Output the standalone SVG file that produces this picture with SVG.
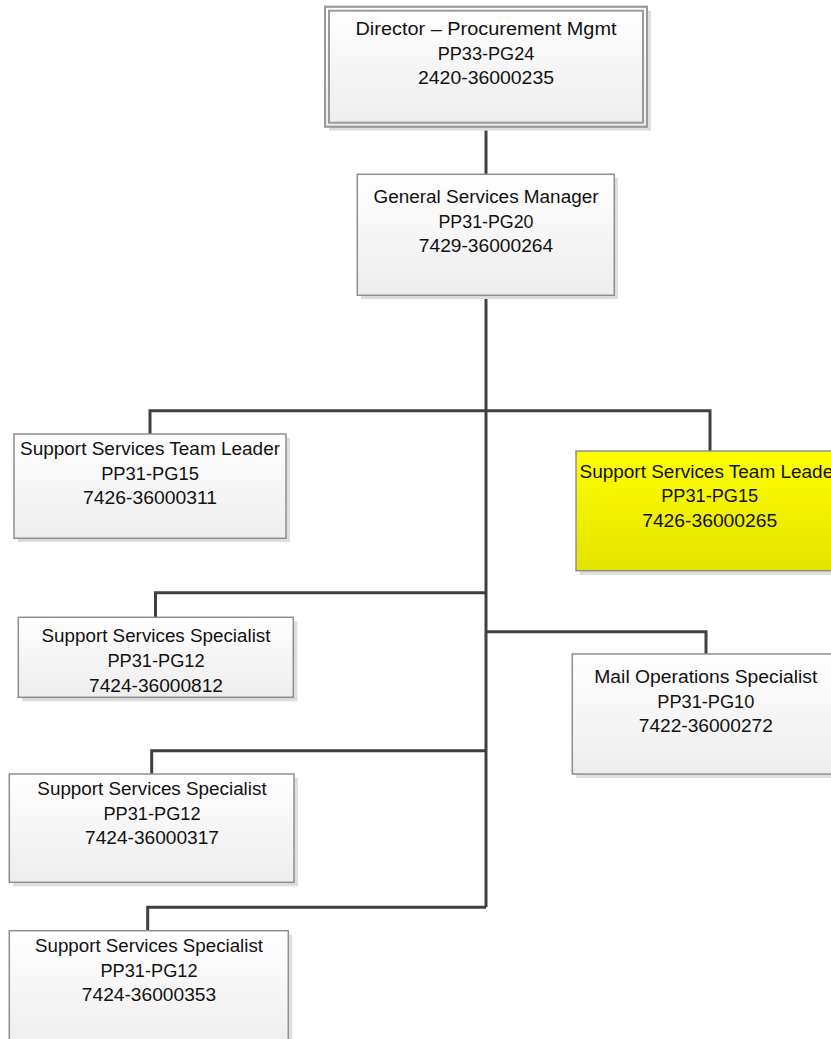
<svg xmlns="http://www.w3.org/2000/svg" width="831" height="1039" viewBox="0 0 831 1039">
  <style>
    .box { fill: url(#gGray); stroke: #8e8e8e; stroke-width: 1.5; }
    .hl { fill: url(#gYellow); stroke: #8e8e8e; stroke-width: 1.5; }
    .shadow { fill: #dedede; }
    .frame { fill: none; stroke: #9a9a9a; stroke-width: 2; }
    .lbl { font-family: "Liberation Sans", Arial, sans-serif; font-size: 17.5px; fill: #111; text-anchor: middle; }
    .link { fill: none; stroke: #404040; stroke-width: 3; stroke-linejoin: miter; }
  </style>
  <defs>
    <linearGradient id="gGray" x1="0" y1="0" x2="0" y2="1">
      <stop offset="0" stop-color="#ffffff"/>
      <stop offset="1" stop-color="#ededed"/>
    </linearGradient>
    <linearGradient id="gYellow" x1="0" y1="0" x2="0" y2="1">
      <stop offset="0" stop-color="#ffff00"/>
      <stop offset="1" stop-color="#e3e300"/>
    </linearGradient>
  </defs>
  <rect width="831" height="1039" fill="#ffffff"/>

  <!-- reporting lines -->
  <g id="connectors">
    <path class="link" d="M486 127 V174"/>
    <path class="link" d="M486 295 V907.3"/>
    <path class="link" d="M150 434 V410.7 H710 V451"/>
    <path class="link" d="M155.5 617.3 V592.7 H486"/>
    <path class="link" d="M486 631.7 H706 V654"/>
    <path class="link" d="M151.7 774 V750.7 H486"/>
    <path class="link" d="M147.7 930.7 V907.3 H486"/>
  </g>

  <g id="director">
    <rect class="shadow" x="329" y="10.7" width="322" height="120"/>
    <rect class="box" x="325" y="6.7" width="322" height="120" stroke="none"/>
    <rect class="frame" x="325" y="6.7" width="322" height="120"/>
    <rect class="frame" x="329" y="10.7" width="314" height="112" stroke="#ababab"/>
    <text class="lbl" x="486" y="35.3" textLength="261" lengthAdjust="spacingAndGlyphs">Director – Procurement Mgmt</text>
    <text class="lbl" x="486" y="59.5" textLength="96.7" lengthAdjust="spacingAndGlyphs">PP33-PG24</text>
    <text class="lbl" x="486" y="83.7" textLength="136" lengthAdjust="spacingAndGlyphs">2420-36000235</text>
  </g>

  <g id="general-services-manager">
    <rect class="shadow" x="361" y="178" width="257" height="121"/>
    <rect class="box" x="357.3" y="174.3" width="257" height="121"/>
    <text class="lbl" x="486" y="203.3" textLength="225" lengthAdjust="spacingAndGlyphs">General Services Manager</text>
    <text class="lbl" x="486" y="227.5" textLength="95" lengthAdjust="spacingAndGlyphs">PP31-PG20</text>
    <text class="lbl" x="486" y="251.7" textLength="134.4" lengthAdjust="spacingAndGlyphs">7429-36000264</text>
  </g>

  <g id="team-leader-311">
    <rect class="shadow" x="18" y="438" width="272" height="104"/>
    <rect class="box" x="14" y="434" width="272" height="104.3"/>
    <text class="lbl" x="150" y="455" textLength="260" lengthAdjust="spacingAndGlyphs">Support Services Team Leader</text>
    <text class="lbl" x="150" y="479.5" textLength="97.7" lengthAdjust="spacingAndGlyphs">PP31-PG15</text>
    <text class="lbl" x="150" y="504" textLength="134" lengthAdjust="spacingAndGlyphs">7426-36000311</text>
  </g>

  <g id="team-leader-265">
    <rect class="shadow" x="580" y="455" width="267" height="120"/>
    <rect class="hl" x="576" y="451" width="267" height="119.7"/>
    <text class="lbl" x="579.5" y="478" text-anchor="start" style="text-anchor:start" textLength="253.7" lengthAdjust="spacingAndGlyphs">Support Services Team Leade</text>
    <text class="lbl" x="709.7" y="502.3" textLength="97" lengthAdjust="spacingAndGlyphs">PP31-PG15</text>
    <text class="lbl" x="709.7" y="526.7" textLength="135" lengthAdjust="spacingAndGlyphs">7426-36000265</text>
  </g>

  <g id="specialist-812">
    <rect class="shadow" x="22.3" y="621.3" width="275" height="80"/>
    <rect class="box" x="18.3" y="617.3" width="275" height="80"/>
    <text class="lbl" x="156" y="641.7" textLength="229" lengthAdjust="spacingAndGlyphs">Support Services Specialist</text>
    <text class="lbl" x="156" y="666.7" textLength="97" lengthAdjust="spacingAndGlyphs">PP31-PG12</text>
    <text class="lbl" x="156" y="691.5" textLength="134" lengthAdjust="spacingAndGlyphs">7424-36000812</text>
  </g>

  <g id="mail-operations-specialist">
    <rect class="shadow" x="576.3" y="658" width="267" height="120"/>
    <rect class="box" x="572.3" y="654" width="267" height="120"/>
    <text class="lbl" x="705.8" y="683.3" textLength="223" lengthAdjust="spacingAndGlyphs">Mail Operations Specialist</text>
    <text class="lbl" x="705.8" y="707.5" textLength="97" lengthAdjust="spacingAndGlyphs">PP31-PG10</text>
    <text class="lbl" x="705.8" y="731.7" textLength="134" lengthAdjust="spacingAndGlyphs">7422-36000272</text>
  </g>

  <g id="specialist-317">
    <rect class="shadow" x="13.3" y="778" width="284.7" height="108.3"/>
    <rect class="box" x="9.3" y="774" width="284.7" height="108.3"/>
    <text class="lbl" x="152" y="795" textLength="229.3" lengthAdjust="spacingAndGlyphs">Support Services Specialist</text>
    <text class="lbl" x="152" y="819.7" textLength="97" lengthAdjust="spacingAndGlyphs">PP31-PG12</text>
    <text class="lbl" x="152" y="844.3" textLength="134" lengthAdjust="spacingAndGlyphs">7424-36000317</text>
  </g>

  <g id="specialist-353">
    <rect class="shadow" x="13.3" y="934.7" width="279" height="120"/>
    <rect class="box" x="9.3" y="930.7" width="279" height="120"/>
    <text class="lbl" x="149" y="951.7" textLength="228" lengthAdjust="spacingAndGlyphs">Support Services Specialist</text>
    <text class="lbl" x="149" y="976.5" textLength="97" lengthAdjust="spacingAndGlyphs">PP31-PG12</text>
    <text class="lbl" x="149" y="1001" textLength="134.3" lengthAdjust="spacingAndGlyphs">7424-36000353</text>
  </g>
</svg>
